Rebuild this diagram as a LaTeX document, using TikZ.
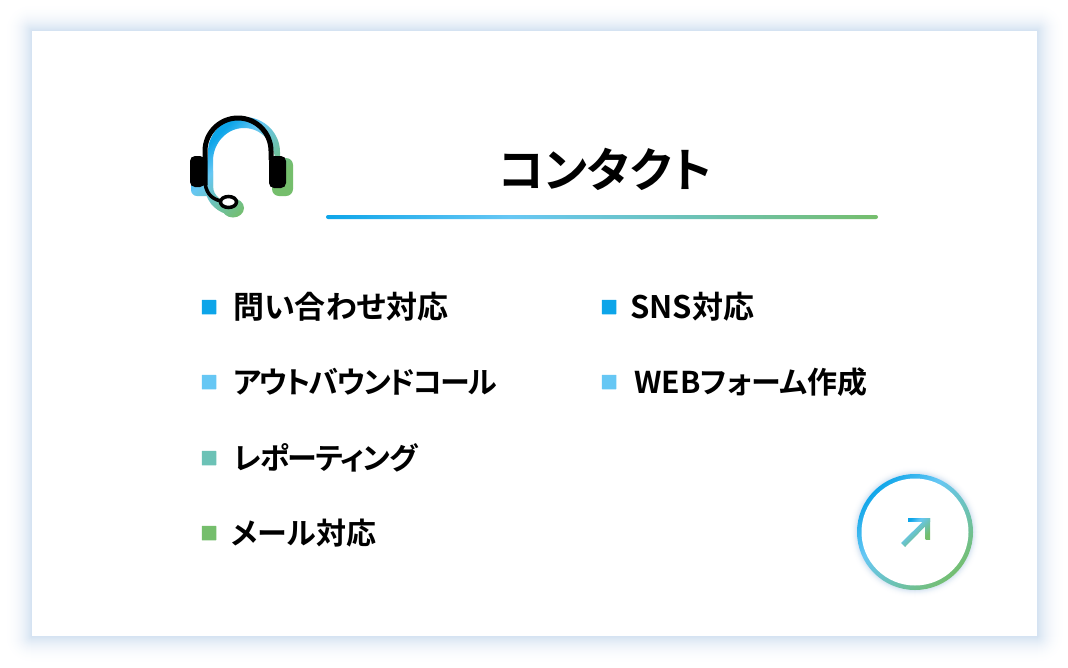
\documentclass[tikz,border=0pt]{standalone}
\usepackage{fontspec}
\setmainfont{Noto Sans CJK JP}[BoldFont={Noto Sans CJK JP Bold},RawFeature={+palt}]
\definecolor{cA}{HTML}{0DA5E9}
\definecolor{cB}{HTML}{66C7F4}
\definecolor{cC}{HTML}{6CC2B6}
\definecolor{cD}{HTML}{75BE6C}
\definecolor{glow}{HTML}{D2E1F1}
\pgfdeclarehorizontalshading{fourstop}{100bp}{color(0bp)=(cA);color(25bp)=(cA);color(41.67bp)=(cB);color(58.33bp)=(cC);color(75bp)=(cD);color(100bp)=(cD)}
\pgfdeclarehorizontalshading{fourlate}{100bp}{color(0bp)=(cA);color(32bp)=(cA);color(42bp)=(cB);color(53bp)=(cC);color(66bp)=(cD);color(100bp)=(cD)}
\newcommand{\fs}[2]{\bfseries\fontsize{#1}{#1}\selectfont\addfontfeature{LetterSpace=#2}}
\tikzset{
  item/.style={anchor=west,inner sep=0pt,text=black},
  title/.style={inner sep=0pt,text=black},
  bullet/.style={minimum size=14.5pt,inner sep=0pt,rounded corners=0.5pt,fill=#1},
  diag/.style={shading=fourstop,shading angle=-45},
  diaglate/.style={shading=fourlate,shading angle=-45}
}
% one part of a shape painted with a gradient common to a fixed box
\newcommand{\gradpart}[2]{\begin{scope}\clip #2;\shade[diaglate] #1;\end{scope}}
\begin{document}
\begin{tikzpicture}[x=1pt,y=1pt]
\useasboundingbox (0,0) rectangle (1068,-667);
\fill[white] (0,0) rectangle (1068,-667);
% card shadow
\foreach \i in {30,29,...,1}{
  \pgfmathsetmacro{\p}{100*((30-\i)/30)^2.4}
  \fill[glow!\p!white,rounded corners={\i*1pt}] (32-\i,-31+\i) rectangle (1037+\i,-636-\i);
}
\fill[white] (32,-31) rectangle (1037,-636);
% headset: coloured offset
\def\iconbox{(188,-112) rectangle (296,-220)}
\gradpart{\iconbox}{[rounded corners=6pt] (191,-165) rectangle (213,-196)}
\gradpart{\iconbox}{[rounded corners=7pt] (272,-158) rectangle (293,-196)}
\gradpart{\iconbox}{(233,-208) ellipse [x radius=11pt,y radius=9.5pt]}
\gradpart{\iconbox}{(208,-152) arc[start angle=180,end angle=0,x radius=36pt,y radius=35pt] -- (280,-170) -- (270,-170) -- (275,-161) arc[start angle=0,end angle=180,x radius=31pt,y radius=33pt] -- (213,-186) .. controls (213,-196) and (222,-202) .. (232,-204) -- (226,-214) .. controls (214,-210) and (205,-200) .. (205,-186) -- cycle}
% headset: black line work
\fill[black,rounded corners=5pt] (190,-156) rectangle (205,-187);
\fill[black,rounded corners=5pt] (269,-156) rectangle (286,-188);
\draw[black,line width=5pt] (205,-185) -- (205,-151) arc[start angle=180,end angle=0,radius=33pt] -- (271,-160);
\draw[black,line width=3.5pt] (205,-180) .. controls (205,-192) and (211,-199) .. (221,-201);
\draw[black,line width=3.5pt,fill=white] (228.5,-202) ellipse [x radius=8pt,y radius=5.5pt];
% title
\node[title,font=\fs{47}{0}] (titleText) at (605,-169) {コンタクト};
\shade[shading=fourstop,rounded corners=2pt] (326,-215) rectangle (878,-219);
% left list
\node[bullet=cA] (b1) at (209,-307) {};
\node[bullet=cB] (b2) at (209,-382) {};
\node[bullet=cC] (b3) at (209,-458) {};
\node[bullet=cD] (b4) at (209,-533) {};
\node[item,font=\fs{31}{0}] (t1) at (233,-307) {問い合わせ対応};
\node[item,font=\fs{30}{-6.3}] (t2) at (233,-382) {アウトバウンドコール};
\node[item,font=\fs{30}{-4.3}] (t3) at (233,-458) {レポーティング};
\node[item,font=\fs{30}{0}] (t4) at (231,-533) {メール対応};
% right list
\node[bullet=cA] (b5) at (609,-307) {};
\node[bullet=cB] (b6) at (609,-382) {};
\node[item,font=\fs{31}{0}] (t5) at (630,-307) {SNS対応};
\node[item,font=\fs{30}{0}] (t6) at (634,-382) {WEBフォーム作成};
% round button
\foreach \i in {8,7,...,1}{
  \pgfmathsetmacro{\p}{100*((8-\i)/8)^2}
  \fill[glow!\p!white] (915,-532) circle ({(58+\i)*1pt});
}
\def\ringbox{(855,-472) rectangle (975,-592)}
\begin{scope}
  \clip (915,-532) circle (58pt);
  \shade[diag] \ringbox;
\end{scope}
\fill[white] (915,-532) circle (53.5pt);
\def\arrowbox{(898,-515) rectangle (932,-549)}
\gradpart{\arrowbox}{(901,-543) -- (926.5,-518) -- (930,-521.5) -- (905,-547) -- cycle}
\gradpart{\arrowbox}{(908,-518) rectangle (930,-521.5)}
\gradpart{\arrowbox}{(925.5,-518) rectangle (930,-539)}
\end{tikzpicture}
\end{document}
